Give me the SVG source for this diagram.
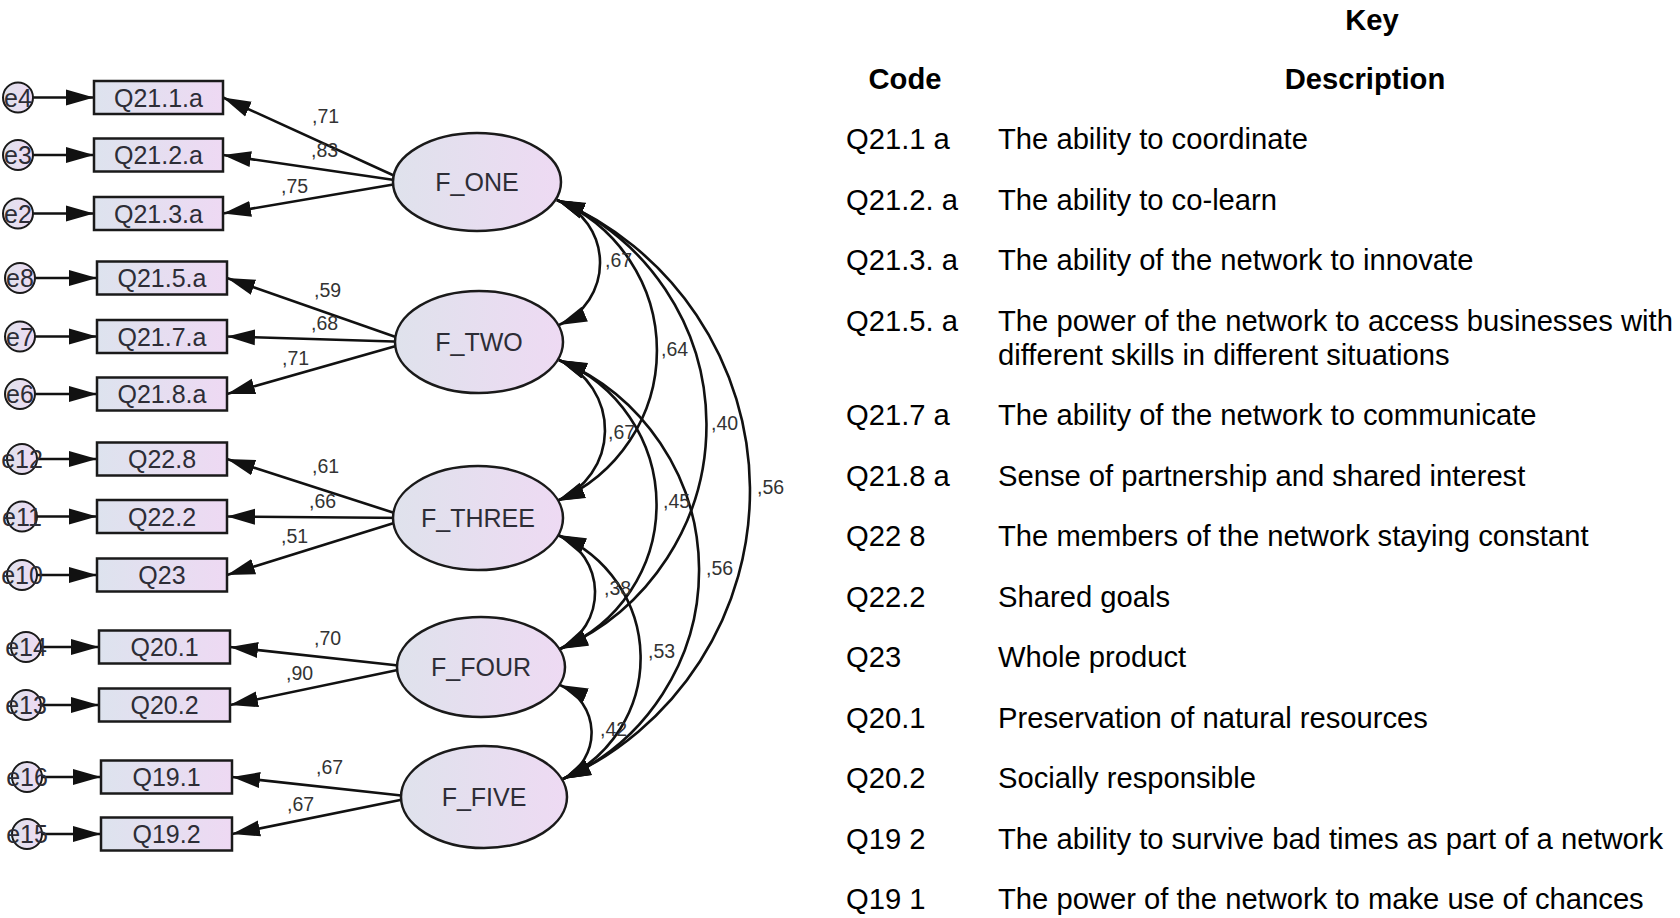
<svg xmlns="http://www.w3.org/2000/svg" width="1680" height="918" viewBox="0 0 1680 918">
  <defs>
    <linearGradient id="fillBox" x1="0" y1="0" x2="1" y2="0">
      <stop offset="0" stop-color="#dde3ee"/>
      <stop offset="1" stop-color="#eed9f3"/>
    </linearGradient>
    <linearGradient id="fillLatent" x1="0" y1="0" x2="1" y2="0">
      <stop offset="0" stop-color="#dfe2ec"/>
      <stop offset="1" stop-color="#eedaf3"/>
    </linearGradient>
    <marker id="arrow" markerUnits="userSpaceOnUse" markerWidth="30" markerHeight="18" refX="28" refY="8" orient="auto-start-reverse" viewBox="0 0 30 16">
      <path d="M0,0 L28,8 L0,16 Z" fill="#111"/>
    </marker>
    <style>
      .ln { stroke: #111; stroke-width: 2.6; fill: none; marker-end: url(#arrow); }
      .cov { stroke: #111; stroke-width: 2.6; fill: none; marker-start: url(#arrow); marker-end: url(#arrow); }
      .box { fill: url(#fillBox); stroke: #1a1a1a; stroke-width: 2.5; }
      .lat { fill: url(#fillLatent); stroke: #1a1a1a; stroke-width: 2.5; }
      .err { fill: url(#fillLatent); stroke: #1a1a1a; stroke-width: 2; }
      .t { font-family: "Liberation Sans", Arial, sans-serif; fill: #2d2d36; text-anchor: middle; }
      .tb { font-size: 25px; }
      .te { font-size: 25px; }
      .w { font-family: "Liberation Sans", Arial, sans-serif; font-size: 19.5px; fill: #333; }
      .k { font-family: "Liberation Sans", Arial, sans-serif; font-size: 29.2px; fill: #000; }
      .kb { font-weight: bold; text-anchor: middle; }
    </style>
  </defs>
  <rect width="1680" height="918" fill="#fff"/>

  <!-- paths: error terms -> indicators, factors -> indicators, factor covariances -->
  <g id="connectors">
    <line class="ln" x1="33" y1="97.5" x2="94" y2="97.5"/>
    <line class="ln" x1="33" y1="155" x2="94" y2="155"/>
    <line class="ln" x1="33" y1="213.5" x2="94" y2="213.5"/>
    <line class="ln" x1="35" y1="278" x2="97" y2="278"/>
    <line class="ln" x1="35" y1="336.5" x2="97" y2="336.5"/>
    <line class="ln" x1="35" y1="394" x2="97" y2="394"/>
    <line class="ln" x1="37" y1="459" x2="97" y2="459"/>
    <line class="ln" x1="37" y1="516.5" x2="97" y2="516.5"/>
    <line class="ln" x1="37" y1="575" x2="97" y2="575"/>
    <line class="ln" x1="41" y1="647" x2="99" y2="647"/>
    <line class="ln" x1="41" y1="705" x2="99" y2="705"/>
    <line class="ln" x1="42" y1="777" x2="101" y2="777"/>
    <line class="ln" x1="42" y1="834" x2="101" y2="834"/>

    <line class="ln" x1="408" y1="182" x2="223" y2="97.5"/>
    <line class="ln" x1="408" y1="182" x2="223" y2="155"/>
    <line class="ln" x1="408" y1="182" x2="223" y2="213.5"/>
    <line class="ln" x1="410" y1="342" x2="227" y2="278"/>
    <line class="ln" x1="410" y1="342" x2="227" y2="336.5"/>
    <line class="ln" x1="410" y1="342" x2="227" y2="394"/>
    <line class="ln" x1="410" y1="518" x2="227" y2="459"/>
    <line class="ln" x1="410" y1="518" x2="227" y2="516.5"/>
    <line class="ln" x1="410" y1="518" x2="227" y2="575"/>
    <line class="ln" x1="412" y1="667" x2="230" y2="647"/>
    <line class="ln" x1="412" y1="667" x2="230" y2="705"/>
    <line class="ln" x1="415" y1="797" x2="232" y2="777"/>
    <line class="ln" x1="415" y1="797" x2="232" y2="834"/>

    <path class="cov" d="M557,200 A67.5,67.5 0 0 1 559,325"/>
    <path class="cov" d="M559,360 A76.4,76.4 0 0 1 557,501"/>
    <path class="cov" d="M558,535 A63.1,63.1 0 0 1 560,649"/>
    <path class="cov" d="M560,685 A51.8,51.8 0 0 1 563,779"/>
    <path class="cov" d="M557,200 A163.3,163.3 0 0 1 557,501"/>
    <path class="cov" d="M559,360 A156.1,156.1 0 0 1 560,649"/>
    <path class="cov" d="M558,535 A133,133 0 0 1 563,779"/>
    <path class="cov" d="M557,200 A244.3,244.3 0 0 1 560,649"/>
    <path class="cov" d="M559,360 A228,228 0 0 1 563,779"/>
    <path class="cov" d="M557,200 A315.6,315.6 0 0 1 563,779"/>
  </g>

  <!-- error terms -->
  <g id="e4"><circle class="err" cx="18" cy="97.5" r="15"/><text class="t te" x="18" y="106.5">e4</text></g>
  <g id="e3"><circle class="err" cx="18" cy="155" r="15"/><text class="t te" x="18" y="164">e3</text></g>
  <g id="e2"><circle class="err" cx="18" cy="213.5" r="15"/><text class="t te" x="18" y="222.5">e2</text></g>
  <g id="e8"><circle class="err" cx="20" cy="278" r="15"/><text class="t te" x="20" y="287">e8</text></g>
  <g id="e7"><circle class="err" cx="20" cy="336.5" r="15"/><text class="t te" x="20" y="345.5">e7</text></g>
  <g id="e6"><circle class="err" cx="20" cy="394" r="15"/><text class="t te" x="20" y="403">e6</text></g>
  <g id="e12"><circle class="err" cx="22" cy="459" r="15"/><text class="t te" x="22" y="468">e12</text></g>
  <g id="e11"><circle class="err" cx="22" cy="516.5" r="15"/><text class="t te" x="22" y="525.5">e11</text></g>
  <g id="e10"><circle class="err" cx="22" cy="575" r="15"/><text class="t te" x="22" y="584">e10</text></g>
  <g id="e14"><circle class="err" cx="26" cy="647" r="15"/><text class="t te" x="26" y="656">e14</text></g>
  <g id="e13"><circle class="err" cx="26" cy="705" r="15"/><text class="t te" x="26" y="714">e13</text></g>
  <g id="e16"><circle class="err" cx="27" cy="777" r="15"/><text class="t te" x="27" y="786">e16</text></g>
  <g id="e15"><circle class="err" cx="27" cy="834" r="15"/><text class="t te" x="27" y="843">e15</text></g>

  <!-- observed indicators -->
  <g id="Q21_1a"><rect class="box" x="94" y="81" width="129" height="33"/><text class="t tb" x="158.5" y="106.5">Q21.1.a</text></g>
  <g id="Q21_2a"><rect class="box" x="94" y="138.5" width="129" height="33"/><text class="t tb" x="158.5" y="164">Q21.2.a</text></g>
  <g id="Q21_3a"><rect class="box" x="94" y="197" width="129" height="33"/><text class="t tb" x="158.5" y="222.5">Q21.3.a</text></g>
  <g id="Q21_5a"><rect class="box" x="97" y="261.5" width="130" height="33"/><text class="t tb" x="162" y="287">Q21.5.a</text></g>
  <g id="Q21_7a"><rect class="box" x="97" y="320" width="130" height="33"/><text class="t tb" x="162" y="345.5">Q21.7.a</text></g>
  <g id="Q21_8a"><rect class="box" x="97" y="377.5" width="130" height="33"/><text class="t tb" x="162" y="403">Q21.8.a</text></g>
  <g id="Q22_8"><rect class="box" x="97" y="442.5" width="130" height="33"/><text class="t tb" x="162" y="468">Q22.8</text></g>
  <g id="Q22_2"><rect class="box" x="97" y="500" width="130" height="33"/><text class="t tb" x="162" y="525.5">Q22.2</text></g>
  <g id="Q23"><rect class="box" x="97" y="558.5" width="130" height="33"/><text class="t tb" x="162" y="584">Q23</text></g>
  <g id="Q20_1"><rect class="box" x="99" y="630.5" width="131" height="33"/><text class="t tb" x="164.5" y="656">Q20.1</text></g>
  <g id="Q20_2"><rect class="box" x="99" y="688.5" width="131" height="33"/><text class="t tb" x="164.5" y="714">Q20.2</text></g>
  <g id="Q19_1"><rect class="box" x="101" y="760.5" width="131" height="33"/><text class="t tb" x="166.5" y="786">Q19.1</text></g>
  <g id="Q19_2"><rect class="box" x="101" y="817.5" width="131" height="33"/><text class="t tb" x="166.5" y="843">Q19.2</text></g>

  <!-- latent factors -->
  <g id="F_ONE"><ellipse class="lat" cx="477" cy="182" rx="84" ry="49"/><text class="t tb" x="477" y="191">F_ONE</text></g>
  <g id="F_TWO"><ellipse class="lat" cx="479" cy="342" rx="84" ry="51"/><text class="t tb" x="479" y="351">F_TWO</text></g>
  <g id="F_THREE"><ellipse class="lat" cx="478" cy="518" rx="85" ry="52"/><text class="t tb" x="478" y="527">F_THREE</text></g>
  <g id="F_FOUR"><ellipse class="lat" cx="481" cy="667" rx="84" ry="50"/><text class="t tb" x="481" y="676">F_FOUR</text></g>
  <g id="F_FIVE"><ellipse class="lat" cx="484" cy="797" rx="83" ry="51"/><text class="t tb" x="484" y="806">F_FIVE</text></g>

  <!-- standardized estimates -->
  <g id="estimates" class="w">
    <text x="312" y="123">,71</text>
    <text x="311" y="157">,83</text>
    <text x="281" y="193">,75</text>
    <text x="314" y="297">,59</text>
    <text x="311" y="330">,68</text>
    <text x="282" y="365">,71</text>
    <text x="312" y="473">,61</text>
    <text x="309" y="508">,66</text>
    <text x="281" y="543">,51</text>
    <text x="314" y="645">,70</text>
    <text x="286" y="680">,90</text>
    <text x="316" y="774">,67</text>
    <text x="287" y="811">,67</text>
    <text x="605" y="267">,67</text>
    <text x="661" y="356">,64</text>
    <text x="608" y="439">,67</text>
    <text x="711" y="430">,40</text>
    <text x="757" y="494">,56</text>
    <text x="663" y="508">,45</text>
    <text x="706" y="575">,56</text>
    <text x="604" y="595">,38</text>
    <text x="648" y="658">,53</text>
    <text x="600" y="736">,42</text>
  </g>

  <!-- legend table -->
  <g id="key">
    <text class="k kb" x="1372" y="30">Key</text>
    <text class="k kb" x="905" y="89">Code</text>
    <text class="k kb" x="1365" y="89">Description</text>
    <g class="k">
      <text x="846" y="149">Q21.1 a</text><text x="998" y="149">The ability to coordinate</text>
      <text x="846" y="210">Q21.2. a</text><text x="998" y="210">The ability to co-learn</text>
      <text x="846" y="270">Q21.3. a</text><text x="998" y="270">The ability of the network to innovate</text>
      <text x="846" y="331">Q21.5. a</text><text x="998" y="331">The power of the network to access businesses with</text>
      <text x="998" y="365">different skills in different situations</text>
      <text x="846" y="425">Q21.7 a</text><text x="998" y="425">The ability of the network to communicate</text>
      <text x="846" y="486">Q21.8 a</text><text x="998" y="486">Sense of partnership and shared interest</text>
      <text x="846" y="546">Q22 8</text><text x="998" y="546">The members of the network staying constant</text>
      <text x="846" y="607">Q22.2</text><text x="998" y="607">Shared goals</text>
      <text x="846" y="667">Q23</text><text x="998" y="667">Whole product</text>
      <text x="846" y="728">Q20.1</text><text x="998" y="728">Preservation of natural resources</text>
      <text x="846" y="788">Q20.2</text><text x="998" y="788">Socially responsible</text>
      <text x="846" y="849">Q19 2</text><text x="998" y="849">The ability to survive bad times as part of a network</text>
      <text x="846" y="909">Q19 1</text><text x="998" y="909">The power of the network to make use of chances</text>
    </g>
  </g>
</svg>
